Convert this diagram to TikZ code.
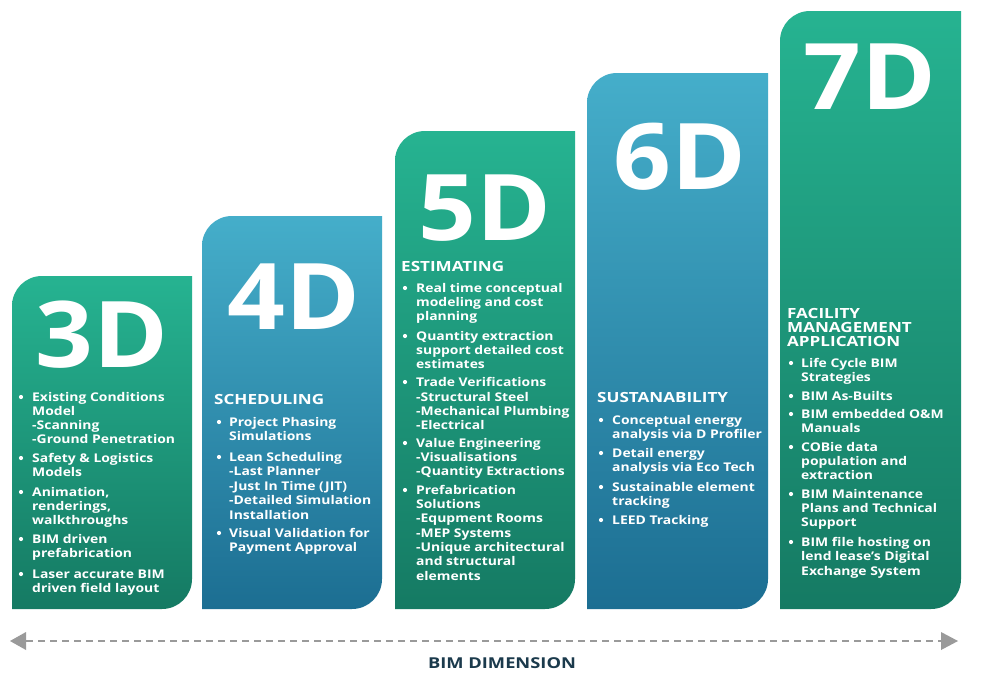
\documentclass[tikz,border=0pt]{standalone}
\usepackage{fontspec}
\setmainfont{Open Sans}
\newfontfamily\itmfont[FakeStretch=1.16]{Open Sans}
\newfontfamily\hdgfont[FakeStretch=1.22]{Open Sans}
\newfontfamily\bigfont[FakeStretch=1.1]{Open Sans}
\definecolor{gtop}{HTML}{26B391}
\definecolor{gbot}{HTML}{157A63}
\definecolor{btop}{HTML}{45AECA}
\definecolor{bbot}{HTML}{1C6E92}
\definecolor{arrowgray}{HTML}{9A9A9A}
\definecolor{navy}{HTML}{1B3A4C}
\tikzset{
  itm/.style={anchor=base west, inner sep=0pt, text=white, font=\itmfont\fontsize{12}{14}\selectfont\bfseries},
  hdg/.style={anchor=base west, inner sep=0pt, text=white, font=\hdgfont\fontsize{14}{16}\selectfont\bfseries},
  big/.style={anchor=base, inner sep=0pt, text depth=0pt, text=white, font=\bigfont\fontsize{92}{92}\selectfont\bfseries},
  bul/.style={circle, fill=white, inner sep=0pt, minimum size=4.2pt},
  greencol/.style={top color=gtop, bottom color=gbot},
  bluecol/.style={top color=btop, bottom color=bbot},
}
\newcommand\colshape[5]{% style, L, T, R, B
  \shade[#1] (#2,#5) -- (#2,#3+30) .. controls (#2,#3+13.4) and (#2+13.4,#3) .. (#2+30,#3)
    -- (#4,#3) -- (#4,#5-30) .. controls (#4,#5-13.4) and (#4-13.4,#5) .. (#4-30,#5) -- cycle;}
\newcommand\colitems[3]{% prefix, text x, list y/text
  \foreach \yy/\tx [count=\i] in {#3} {\node[itm] (#1l\i) at (#2,\yy+4.5) {\tx};}}
\newcommand\colbullets[3]{% prefix, bullet x, list y
  \foreach \yy [count=\i] in {#3} {\node[bul] (#1b\i) at (#2,\yy) {};}}
\begin{document}
\begin{tikzpicture}[x=1pt,y=-1pt]
\useasboundingbox (0,0) rectangle (984,672);
\fill[white] (0,0) rectangle (984,672);
% columns
\colshape{greencol}{12}{276}{192}{609}
\colshape{bluecol}{202}{216}{382}{609}
\colshape{greencol}{395}{131}{575}{609}
\colshape{bluecol}{587}{73}{768}{609}
\colshape{greencol}{780}{11}{961}{609}
% big labels
\node[big] (t3) at (102,367) {3D};
\node[big] (t4) at (294,329) {4D};
\node[big] (t5) at (485,240) {5D};
\node[big] (t6) at (680,189) {6D};
\node[big] (t7) at (870,109) {7D};
% 3D
\colbullets{c3}{21}{397,458,492,539,574}
\colitems{c3}{32}{397/{Existing Conditions},411/Model,425/-Scanning,439/{-Ground Penetration},
  458/{Safety \& Logistics},472/Models,492/{Animation,},506/{renderings,},520/walkthroughs,
  539/{BIM driven},553/prefabrication,574/{Laser accurate BIM},588/{driven field layout}}
% 4D
\node[hdg] (h4) at (214,404) {SCHEDULING};
\colbullets{c4}{219}{422,457,533}
\colitems{c4}{229}{422/{Project Phasing},436/Simulations,457/{Lean Scheduling},471/{-Last Planner},
  486/{-Just In Time (JIT)},500/{-Detailed Simulation},515/Installation,533/{Visual Validation for},
  547/{Payment Approval}}
% 5D
\node[hdg] (h5) at (401,271) {ESTIMATING};
\colbullets{c5}{405}{288,336,382,443,490}
\colitems{c5}{416}{288/{Real time conceptual},302/{modeling and cost},316/planning,
  336/{Quantity extraction},350/{support detailed cost},364/estimates,
  382/{Trade Verifications},397/{-Structural Steel},411/{-Mechanical Plumbing},425/-Electrical,
  443/{Value Engineering},457/-Visualisations,471/{-Quantity Extractions},
  490/Prefabrication,504/Solutions,518/{-Equpment Rooms},533/{-MEP Systems},
  547/{-Unique architectural},561/{and structural},576/elements}
% 6D
\node[hdg] (h6) at (597,402) {SUSTANABILITY};
\colbullets{c6}{601}{420,453,487,520}
\colitems{c6}{612}{420/{Conceptual energy},434/{analysis via D Profiler},453/{Detail energy},
  467/{analysis via Eco Tech},487/{Sustainable element},501/tracking,520/{LEED Tracking}}
% 7D
\node[hdg] (h7a) at (787,318) {FACILITY};
\node[hdg] (h7b) at (787,332) {MANAGEMENT};
\node[hdg] (h7c) at (787,346) {APPLICATION};
\colbullets{c7}{791}{363,396,414,447,494,542}
\colitems{c7}{801}{363/{Life Cycle BIM},377/Strategies,396/{BIM As-Builts},414/{BIM embedded O\&M},
  428/Manuals,447/{COBie data},461/{population and},475/extraction,494/{BIM Maintenance},
  508/{Plans and Technical},522/Support,542/{BIM file hosting on},556/{lend lease’s Digital},
  571/{Exchange System}}
% axis arrow
\coordinate (aL) at (26,641);
\coordinate (aR) at (941,641);
\draw[arrowgray, line width=1.8pt, dash pattern=on 7pt off 5pt] (aL) -- (aR);
\fill[arrowgray] (10,641) -- (aL |- 0,632) -- (aL |- 0,650) -- cycle;
\fill[arrowgray] (958,641) -- (aR |- 0,632) -- (aR |- 0,650) -- cycle;
\node[anchor=base, inner sep=0pt, text=navy, font=\hdgfont\fontsize{15}{15}\selectfont\bfseries] (dim) at (502,668) {BIM DIMENSION};
\end{tikzpicture}
\end{document}
